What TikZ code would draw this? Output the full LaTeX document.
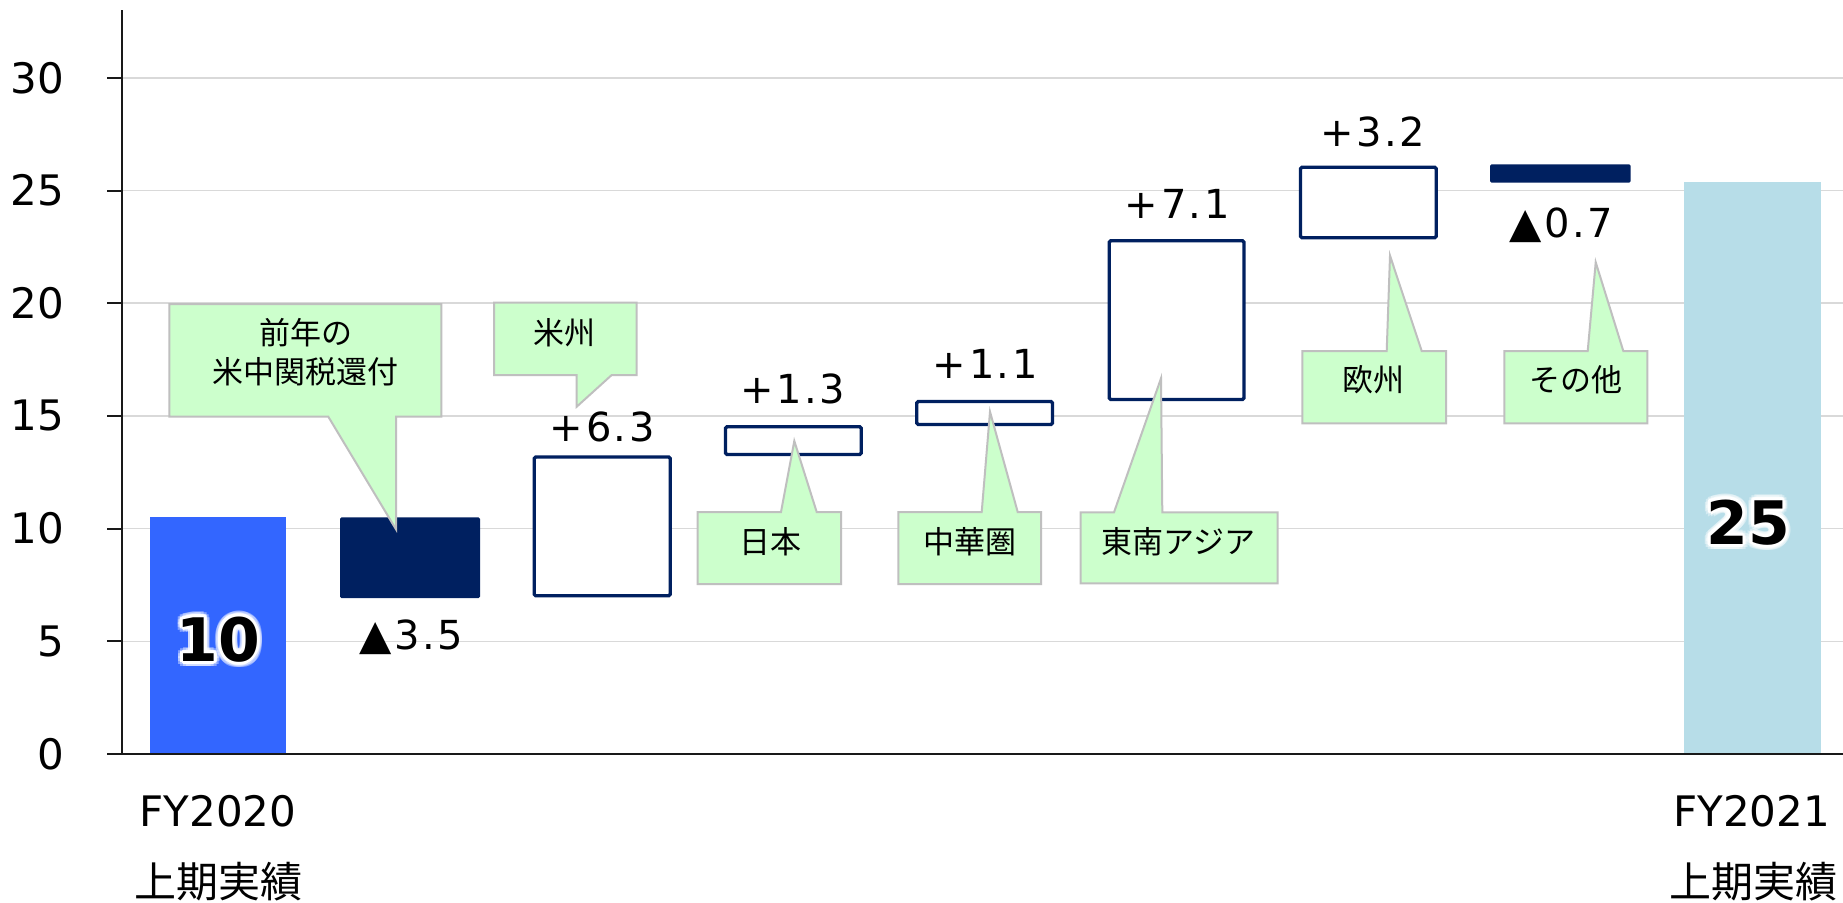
\documentclass[tikz,border=0pt]{standalone}
\usepackage{fontspec}
\setmainfont{DejaVu Sans}
\newfontfamily\jp{Noto Sans CJK JP}
\newfontfamily\valfont[LetterSpace=6.0]{DejaVu Sans}
\definecolor{bblue}{HTML}{3366FF}
\definecolor{navy}{HTML}{002060}
\definecolor{lblue}{HTML}{B7DDE8}
\definecolor{callf}{HTML}{CCFFCC}
\definecolor{callb}{HTML}{BFBFBF}
\definecolor{gridc}{HTML}{D9D9D9}
\tikzset{
 gridln/.style={draw=gridc, line width=1.5pt},
 axisln/.style={draw=black!90, line width=2pt},
 hollow/.style={draw=navy, line width=3.3pt, fill=white, rounded corners=1.5pt},
 callout/.style={draw=callb, line width=2pt, fill=callf, line join=miter},
 ylab/.style={font=\fontsize{42}{50}\selectfont, anchor=east, inner sep=0pt},
 vlab/.style={font=\valfont\fontsize{40}{48}\selectfont, anchor=base, inner sep=0pt},
 clab/.style={font=\jp\fontsize{31}{38.7}\selectfont, inner sep=0pt, align=center},
 xlab/.style={font=\fontsize{42}{50}\selectfont, anchor=base, inner sep=0pt},
 xjp/.style={font=\jp\fontsize{42}{50}\selectfont, inner sep=0pt},
 bignum/.style={font=\bfseries\fontsize{60}{70}\selectfont, inner sep=0pt},
}
\newcommand\pl{+\kern3pt}
\newcommand\tri{{\fontsize{42}{48}\selectfont\char"25B2}\kern3pt}
\begin{document}
\begin{tikzpicture}[x=1pt,y=-1pt]
\useasboundingbox (0,0) rectangle (1843,902);
\fill[white] (0,0) rectangle (1843,902);
% gridlines
\foreach \k in {1,...,6} \draw[gridln] (122,{754-112.7*\k}) -- (1843,{754-112.7*\k});
% bars
\fill[bblue] (150,517.3) rectangle (286,754);
\fill[navy, rounded corners=1.5pt] (340,517.3) rectangle (480,598);
\draw[hollow] (534.2,457) rectangle (670.2,595.8);
\draw[hollow] (725.5,426.8) rectangle (861.3,454.5);
\draw[hollow] (916.8,401.5) rectangle (1052.5,424.5);
\draw[hollow] (1109.2,240.8) rectangle (1244,399.5);
\draw[hollow] (1300.5,167.2) rectangle (1436.2,237.8);
\fill[navy, rounded corners=1.5pt] (1490,164.3) rectangle (1630.7,182.7);
\fill[lblue] (1684,182) rectangle (1821,754);
% callouts
\draw[callout] (169.3,304) -- (441.3,304) -- (441.3,416.7) -- (396,416.7) -- (396,529.3) -- (328.3,416.7) -- (169.3,416.7) -- cycle;
\node[clab] (c1) at (305.5,352.3) {前年の\\米中関税還付};
\draw[callout] (494,302.7) -- (636.7,302.7) -- (636.7,375) -- (611.7,375) -- (576.7,406.7) -- (576.7,375) -- (494,375) -- cycle;
\node[clab] (c2) at (564.5,333) {米州};
\draw[callout] (697.7,512) -- (781,512) -- (794.3,441) -- (816.7,512) -- (841,512) -- (841,584) -- (697.7,584) -- cycle;
\node[clab] (c3) at (770,541.7) {日本};
\draw[callout] (898.3,512) -- (981.7,512) -- (990,411.7) -- (1017.7,512) -- (1041,512) -- (1041,584) -- (898.3,584) -- cycle;
\node[clab] (c4) at (970,541.7) {中華圏};
\draw[callout] (1080.7,512.3) -- (1114,512.3) -- (1161,378.3) -- (1162.3,512.3) -- (1277.7,512.3) -- (1277.7,583.3) -- (1080.7,583.3) -- cycle;
\node[clab] (c5) at (1178.5,541.7) {東南アジア};
\draw[callout] (1302.3,351) -- (1386.7,351) -- (1390,255.7) -- (1421.7,351) -- (1446,351) -- (1446,423.3) -- (1302.3,423.3) -- cycle;
\node[clab] (c6) at (1373.5,380) {欧州};
\draw[callout] (1504.3,351) -- (1587.7,351) -- (1595.7,262.3) -- (1623.3,351) -- (1647.3,351) -- (1647.3,423.3) -- (1504.3,423.3) -- cycle;
\node[clab] (c7) at (1575.5,380) {その他};
% axes
\draw[axisln] (122,10) -- (122,754);
\draw[axisln] (107,754) -- (1843,754);
\foreach \k in {1,...,6} \draw[axisln] (107,{754-112.7*\k}) -- (122,{754-112.7*\k});
\foreach \k/\v in {0/0,1/5,2/10,3/15,4/20,5/25,6/30}
  \node[ylab] (y\k) at (64.5,{754-112.7*\k}) {\v};
% value labels
\node[vlab] (v1) at (411,649) {\tri3.5};
\node[vlab] (v2) at (602,441.7) {\pl6.3};
\node[vlab] (v3) at (792.5,403.3) {\pl1.3};
\node[vlab] (v4) at (985,378.3) {\pl1.1};
\node[vlab] (v5) at (1177,218.3) {\pl7.1};
\node[vlab] (v6) at (1372.5,146.7) {\pl3.2};
\node[vlab] (v7) at (1561.5,237.3) {\tri0.7};
% big numbers with glow
\foreach \a in {0,30,...,330} {
  \node[bignum, text=white, opacity=0.4] at ([shift={(\a:5.5)}]218.3,639.5) {10};
  \node[bignum, text=white] at ([shift={(\a:3)}]218.3,639.5) {10};
  \node[bignum, text=white, opacity=0.4] at ([shift={(\a:5.5)}]1748,522.5) {25};
  \node[bignum, text=white] at ([shift={(\a:3)}]1748,522.5) {25};
}
\node[bignum] (n10) at (218.3,639.5) {10};
\node[bignum] (n25) at (1748,522.5) {25};
% x labels
\node[xlab] (x1) at (218,826.7) {FY2020};
\node[xjp] (x1b) at (218.5,881.5) {上期実績};
\node[xlab] (x2) at (1751.7,826.7) {FY2021};
\node[xjp] (x2b) at (1753,881.5) {上期実績};
\end{tikzpicture}
\end{document}
